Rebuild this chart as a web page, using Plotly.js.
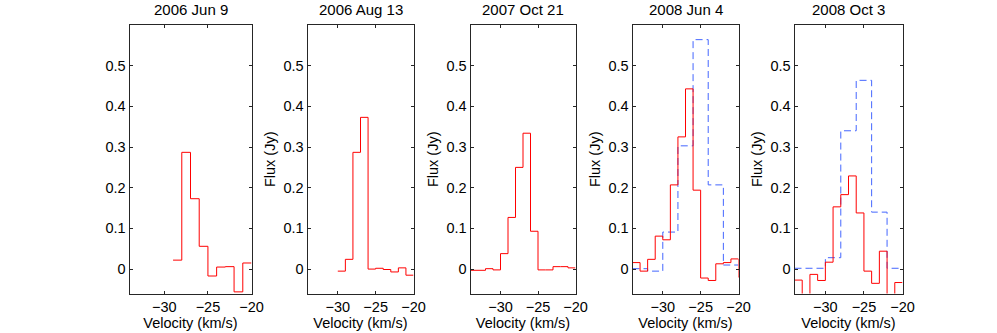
<!DOCTYPE html>
<html>
<head>
<meta charset="utf-8">
<script src="https://cdn.plot.ly/plotly-3.0.1.min.js"></script>
<style>
  html, body { margin: 0; padding: 0; background: #fff; }
  #myDiv { width: 997px; height: 333px; }
</style>
</head>
<body>
<div id="myDiv"></div>
<script>
// Fechas de cada panel
const dates = ["2006 Jun 9", "2006 Aug 13", "2007 Oct 21", "2008 Jun 4", "2008 Oct 3"];

// Espectros rojos (canales de 1 km/s, inicio del canal)
const vel1 = [-29, -28, -27, -26, -25, -24, -23, -22, -21];
const flux1 = [0.022, 0.287, 0.173, 0.056, -0.017, 0.005, 0.006, -0.056, 0.015];

const vel2 = [-30, -29, -28, -27, -26, -25, -24, -23, -22, -21];
const flux2 = [-0.005, 0.024, 0.287, 0.373, 0.0, 0.002, -0.001, -0.007, 0.003, -0.015];

const vel3 = [-34, -33, -32, -31, -30, -29, -28, -27, -26, -25, -24, -23, -22, -21];
const flux3 = [-0.003, -0.003, 0.001, -0.002, 0.038, 0.127, 0.25, 0.334, 0.093, -0.002, -0.002, 0.006, 0.006, 0.003];

const vel4 = [-34, -33, -32, -31, -30, -29, -28, -27, -26, -25, -24, -23, -22, -21, -20];
const flux4 = [0.016, -0.005, 0.024, 0.081, 0.072, 0.207, 0.325, 0.443, 0.194, -0.022, -0.028, 0.013, 0.016, 0.025, -0.02];

const vel5 = [-34, -33, -32, -31, -30, -29, -28, -27, -26, -25, -24, -23, -22, -21];
const flux5 = [-0.027, -0.08, -0.013, -0.028, 0.017, 0.153, 0.183, 0.229, 0.138, -0.005, -0.035, 0.044, -0.09, -0.033];

// Espectros azules (canales de 2 km/s)
const velB = [-34, -32, -30, -28, -26, -24, -22];
const fluxB4 = [0.001, -0.005, 0.091, 0.303, 0.564, 0.207, 0.01];
const fluxB5 = [0.002, 0.002, 0.028, 0.34, 0.464, 0.14, 0.002];

const yTicks = [0, 0.1, 0.2, 0.3, 0.4, 0.5];
const yTickText = ["0", "0.1", "0.2", "0.3", "0.4", "0.5"];
const xTicks = [-30, -25, -20];

// Cajas de los paneles en píxeles [izq, der]
const W = 997, H = 333;
const boxes = [[129.5, 251.5], [307.5, 413.5], [470.5, 575.5], [632.5, 738.5], [794.5, 902.5]];
const yDom = [1 - 293.5 / H, 1 - 25 / H];

// Escalera: se repite el último valor hasta el borde del canal
function stairs(vel, flux, width) {
  return {
    x: vel.concat([vel[vel.length - 1] + width]),
    y: flux.concat([flux[flux.length - 1]]),
  };
}

const red = [[vel1, flux1], [vel2, flux2], [vel3, flux3], [vel4, flux4], [vel5, flux5]];
const blue = { 3: fluxB4, 4: fluxB5 };

const font = { family: "Liberation Sans, Arial, sans-serif", size: 14.5, color: "#000" };
const titleFont = { family: "Liberation Sans, Arial, sans-serif", size: 15, color: "#000" };

const data = [];
const layout = {
  width: W,
  height: H,
  margin: { l: 0, r: 0, t: 0, b: 0 },
  paper_bgcolor: "#fff",
  plot_bgcolor: "#fff",
  showlegend: false,
  font: font,
  annotations: [],
};

boxes.forEach((b, i) => {
  const n = i === 0 ? "" : String(i + 1);
  // Traza azul discontinua (si existe)
  if (blue[i]) {
    const s = stairs(velB, blue[i], 2);
    data.push({
      type: "scatter",
      mode: "lines",
      x: s.x,
      y: s.y,
      xaxis: "x" + n,
      yaxis: "y" + n,
      line: { color: "#4466ff", width: 1, shape: "hv", dash: "7px,4px" },
      hoverinfo: "skip",
    });
  }
  const s = stairs(red[i][0], red[i][1], 1);
  data.push({
    type: "scatter",
    mode: "lines",
    x: s.x,
    y: s.y,
    xaxis: "x" + n,
    yaxis: "y" + n,
    line: { color: "#ff0000", width: 1, shape: "hv" },
    hoverinfo: "skip",
  });

  layout["xaxis" + n] = {
    domain: [b[0] / W, b[1] / W],
    anchor: "y" + n,
    range: [-34, -20],
    tickvals: xTicks,
    ticks: "inside",
    ticklen: 3,
    tickcolor: "#262626",
    showline: true,
    linecolor: "#262626",
    linewidth: 1,
    mirror: "allticks",
    showgrid: false,
    zeroline: false,
    tickfont: font,
    title: { text: "Velocity (km/s)", font: font, standoff: 2 },
  };
  layout["yaxis" + n] = {
    domain: yDom,
    anchor: "x" + n,
    range: [-0.06, 0.6],
    tickvals: yTicks,
    ticktext: yTickText,
    ticks: "inside",
    ticklen: 3,
    tickcolor: "#262626",
    showline: true,
    linecolor: "#262626",
    linewidth: 1,
    mirror: "allticks",
    showgrid: false,
    zeroline: false,
    tickfont: font,
    title: { text: i === 0 ? "" : "Flux (Jy)", font: font, standoff: 4 },
  };
  layout.annotations.push({
    text: dates[i],
    xref: "paper",
    yref: "paper",
    x: (b[0] + b[1]) / 2 / W,
    y: 1 - 10 / H,
    xanchor: "center",
    yanchor: "middle",
    showarrow: false,
    font: titleFont,
  });
});

Plotly.newPlot("myDiv", data, layout, { staticPlot: true });
</script>
</body>
</html>
